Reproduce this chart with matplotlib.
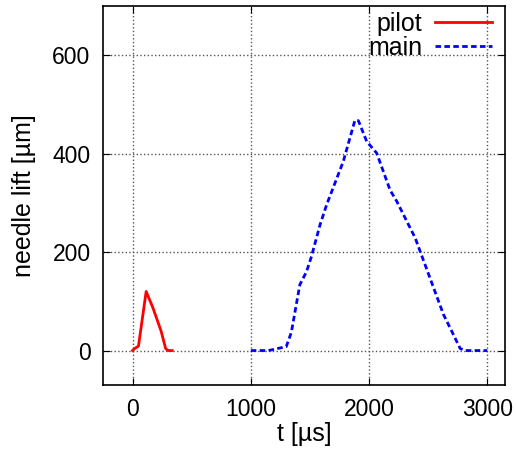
import matplotlib
matplotlib.use("Agg")
import matplotlib.pyplot as plt

plt.rcParams['font.family'] = ['Liberation Sans', 'DejaVu Sans']

# pilot injection needle lift
pilot_t = [0, 17, 50, 115, 172, 242, 280, 300, 335]
pilot_lift = [0, 4, 9, 120, 87, 39, 4, 0, 0]

# main injection needle lift
main_t = [1000, 1150, 1300, 1343, 1415, 1471, 1513, 1585, 1641, 1782, 1881, 1910,
          1980, 2065, 2178, 2235, 2390, 2630, 2700, 2771, 2814, 3000]
main_lift = [0, 0, 8, 37, 134, 160, 191, 255, 296, 384, 468, 467,
             425, 401, 326, 303, 229, 73, 39, 4, 0, 0]

fig = plt.figure(figsize=(5.16, 4.5), dpi=100)
ax = fig.add_axes([103/516, 65/450, 402/516, 379/450])

ax.plot(pilot_t, pilot_lift, color='#ff0000', lw=2, label='pilot')
ax.plot(main_t, main_lift, color='#0000ff', lw=2, ls=(0, (2, 1.2)), label='main')

ax.set_xlim(-250, 3150)
ax.set_ylim(-70, 700)
ax.set_xticks([0, 1000, 2000, 3000])
ax.set_yticks([0, 200, 400, 600])
ax.tick_params(direction='in', top=True, right=True, labelsize=16.5, length=5, pad=9)
ax.grid(True, ls=':', color='#555555', lw=1.0)
ax.set_xlabel('t [µs]', fontsize=18, labelpad=1)
ax.set_ylabel('needle lift [µm]', fontsize=18, labelpad=12)
for s in ax.spines.values():
    s.set_linewidth(1.2)

leg = ax.legend(loc='upper right', bbox_to_anchor=(0.975, 0.992), frameon=False,
                markerfirst=False, fontsize=18, handlelength=2.3, borderaxespad=0,
                labelspacing=0.0, handletextpad=0.5, borderpad=0.1)
for t in leg.get_texts():
    t.set_ha('right')

fig.savefig('out.png', dpi=100)
